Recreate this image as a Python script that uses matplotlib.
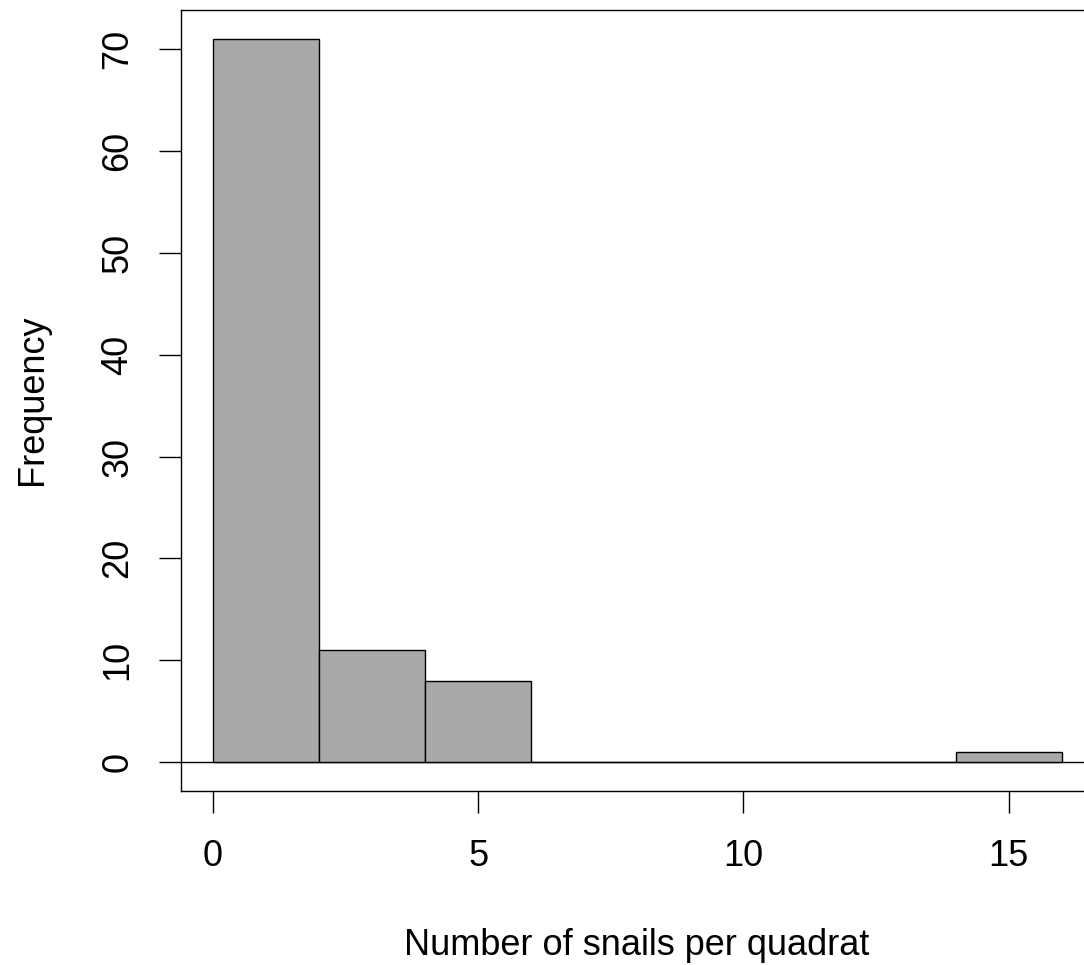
import matplotlib.pyplot as plt
import numpy as np

plt.rcParams["font.family"] = ["Liberation Sans", "DejaVu Sans"]

# histogram of snail counts, bins of width 2
bin_edges = [0, 2, 4, 6, 8, 10, 12, 14, 16]
counts = [71, 11, 8, 0, 0, 0, 0, 1]
x_ticks = [0, 5, 10, 15]
y_ticks = [0, 10, 20, 30, 40, 50, 60, 70]

W, H = 1084, 965
fig = plt.figure(figsize=(W / 100, H / 100), dpi=100)

# axes box in pixel terms (right side runs off the canvas, as in the original)
left_px, top_px, bottom_px = 181, 10, 791
x_lo, x_hi = -0.6, 16.64
px_per_unit = 53.05
width_px = (x_hi - x_lo) * px_per_unit
ax = fig.add_axes([left_px / W, (H - bottom_px) / H, width_px / W, (bottom_px - top_px) / H])

edges = np.array(bin_edges)
ax.bar(edges[:-1], counts, width=np.diff(edges), align="edge",
       color="#a9a9a9", edgecolor="black", linewidth=1.0, zorder=2)
ax.axhline(0, color="black", linewidth=1.0, zorder=1)

ax.set_xlim(x_lo, x_hi)
ax.set_ylim(-2.84, 73.84)
ax.set_xticks(x_ticks)
ax.set_yticks(y_ticks)
for s in ax.spines.values():
    s.set_linewidth(1.0)

ax.tick_params(axis="both", length=15.8, width=1.0, labelsize=26, color="black")
ax.tick_params(axis="x", pad=19)
ax.tick_params(axis="y", pad=17, labelrotation=90)
for lab in ax.get_yticklabels():
    lab.set_va("center")

fig.text(637 / W, (H - 955) / H, "Number of snails per quadrat",
         ha="center", va="baseline", fontsize=26)
fig.text(42 / W, (H - 400) / H, "Frequency", rotation=90, rotation_mode="anchor",
         ha="center", va="baseline", fontsize=26)

fig.savefig("out.png", dpi=100)
